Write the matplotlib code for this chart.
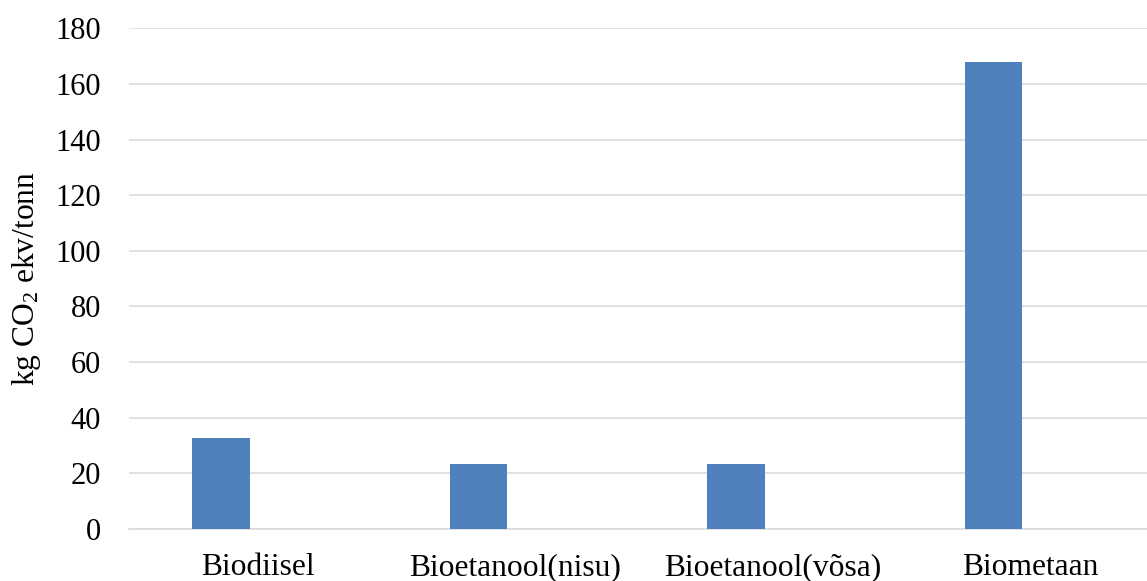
import matplotlib
matplotlib.use("Agg")
import matplotlib.pyplot as plt
import numpy as np

categories = ["Biodiisel", "Bioetanool(nisu)", "Bioetanool(võsa)", "Biometaan"]
values = [32.6, 23.4, 23.4, 168]
yticks = [0, 20, 40, 60, 80, 100, 120, 140, 160, 180]

plt.rcParams['font.family'] = ['Liberation Serif', 'DejaVu Serif']
plt.rcParams['mathtext.fontset'] = 'custom'
plt.rcParams['mathtext.rm'] = 'Liberation Serif'
plt.rcParams['mathtext.default'] = 'regular'

W, H = 1147, 581
fig = plt.figure(figsize=(W / 100, H / 100), dpi=100)
left, right, bottom, top = 129, 1159, 529, 28.3
ax = fig.add_axes([left / W, (H - bottom) / H, (right - left) / W, (bottom - top) / H])

x = np.arange(len(categories))
bar_w = 0.223
offset = -0.142
ax.bar(x + offset, values, width=bar_w, color='#4F81BD', zorder=3)

ax.set_xlim(-0.5, len(categories) - 0.5)
ax.set_ylim(0, 180)
ax.set_yticks(yticks)
ax.set_yticklabels([str(v) for v in yticks], fontsize=22)
ax.set_xticks(x)
ax.set_xticklabels(categories, fontsize=22.7)
ax.tick_params(axis='y', length=0, pad=20, colors='#000000')
ax.tick_params(axis='x', length=0, pad=17.5)

ax.grid(axis='y', color='#D9D9D9', linewidth=1.1, zorder=0)
for s in ['top', 'right', 'left']:
    ax.spines[s].set_visible(False)
ax.spines['bottom'].set_color('#D9D9D9')
ax.spines['bottom'].set_linewidth(1.1)

fig.text(27 / W, 1 - 278.7 / H, 'kg CO$_2$ ekv/tonn', rotation=90,
         ha='center', va='center', fontsize=22.7)

fig.savefig('out.png', dpi=100)
